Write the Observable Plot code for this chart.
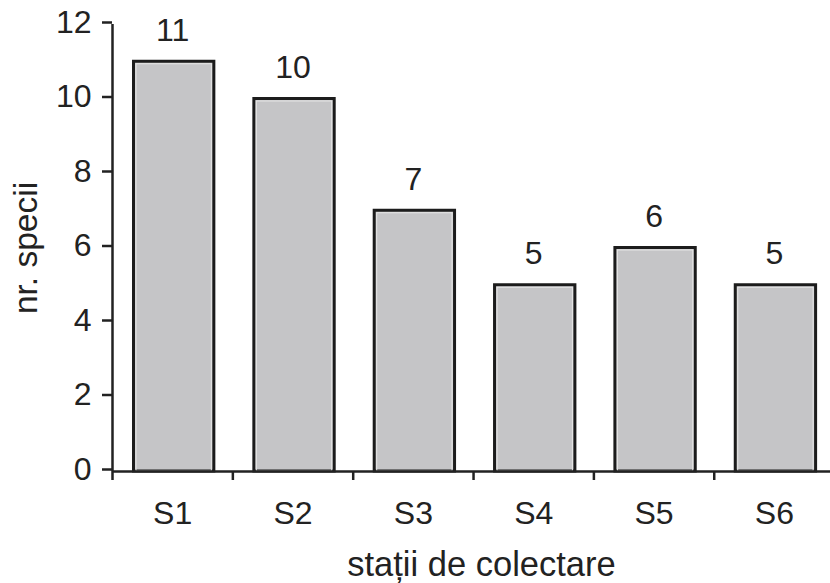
<!DOCTYPE html>
<html>
<head>
<meta charset="utf-8">
<script src="https://cdn.jsdelivr.net/npm/d3@7"></script>
<script src="https://cdn.jsdelivr.net/npm/@observablehq/plot@0.6"></script>
<style>
  html, body { margin: 0; padding: 0; background: #fff; }
  #chart svg { display: block; }
</style>
</head>
<body>
<div id="chart"></div>
<script>
const categories = ["S1", "S2", "S3", "S4", "S5", "S6"];
const values = [11, 10, 7, 5, 6, 5];
const yTicks = [0, 2, 4, 6, 8, 10, 12];
const xLabel = "stații de colectare";
const yLabel = "nr. specii";

const data = categories.map((c, i) => ({i, name: c, value: values[i]}));
const ink = "#222";
const font = "Liberation Sans, Arial, sans-serif";

const chart = Plot.plot({
  width: 830,
  height: 583,
  marginTop: 24,
  marginBottom: 112,
  marginLeft: 112,
  marginRight: 0,
  style: {fontFamily: font, color: ink, background: "#fff"},
  x: {domain: [0, categories.length], range: [112, 112 + 120.35 * categories.length]},
  y: {domain: [0, 12]},
  marks: [
    Plot.rectY(data, {
      x1: "i", x2: d => d.i + 1, y: "value",
      insetLeft: 21.5, insetRight: 18.5,
      fill: "#c5c5c7", stroke: "#1c1c1c", strokeWidth: 3
    }),
    Plot.rectY(data, {
      x1: "i", x2: d => d.i + 1, y: "value",
      insetLeft: 24, insetRight: 21, insetTop: 2.5,
      fill: "none", stroke: "#e6e6e6", strokeWidth: 1
    }),
    Plot.text(data, {
      x: d => d.i + 0.5, y: "value", text: d => String(d.value),
      lineAnchor: "bottom", dy: -21, fontSize: 32, fill: ink
    }),
    Plot.ruleX([0], {stroke: ink, strokeWidth: 2.5}),
    Plot.ruleY([0], {stroke: ink, strokeWidth: 2.5}),
    Plot.axisY({
      ticks: yTicks, tickSize: 10, tickPadding: 11, fontSize: 32,
      stroke: ink, strokeWidth: 2.5, dy: -2, label: null
    }),
    Plot.axisY({
      ticks: [], label: yLabel, labelAnchor: "center", labelArrow: "none",
      labelOffset: 99, fontSize: 33.5
    }),
    Plot.axisX({
      ticks: d3.range(0, categories.length), tickSize: 9, tickFormat: () => "",
      stroke: ink, strokeWidth: 2.5, label: null
    }),
    Plot.axisX({
      ticks: categories.map((c, i) => i + 0.5), tickSize: 0, tickPadding: 30,
      tickFormat: t => categories[Math.floor(t)], fontSize: 32,
      label: null
    }),
    Plot.text([xLabel], {
      text: d => d, frameAnchor: "bottom", lineAnchor: "bottom",
      dx: 10, dy: 104, fontSize: 34.5, fill: ink
    })
  ]
});
document.getElementById("chart").append(chart);
</script>
</body>
</html>
